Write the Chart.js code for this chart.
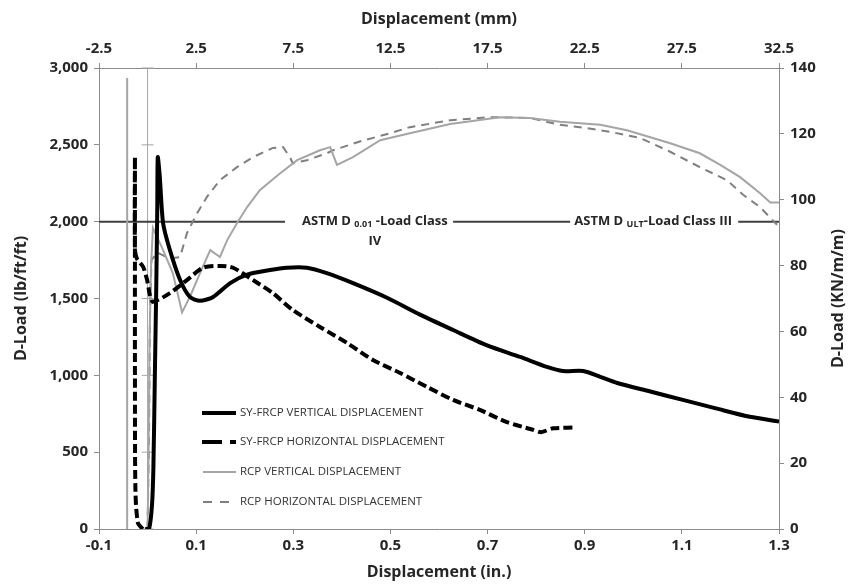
<!DOCTYPE html>
<html lang="en">
<head>
<meta charset="UTF-8">
<title>D-Load vs Displacement</title>
<script src="https://cdn.jsdelivr.net/npm/chart.js"></script>
<style>
  html, body { margin: 0; padding: 0; background: #fff; }
</style>
</head>
<body>
<canvas id="grafico" width="853" height="587"></canvas>
<script>
// ticks
const inTicksStep = 0.2;
const mmTicksStep = 5;
const lbTicks = [0, 500, 1000, 1500, 2000, 2500, 3000];
const knTicksStep = 20;

// SY-FRCP vertical displacement (in., lb/ft/ft)
const sfVertX = [-0.005, 0.003, 0.009, 0.012, 0.015, 0.018, 0.02, 0.021, 0.025, 0.032, 0.046, 0.067, 0.087, 0.108, 0.135, 0.17, 0.205, 0.252, 0.287, 0.328, 0.369, 0.423, 0.493, 0.561, 0.629, 0.699, 0.767, 0.822, 0.855, 0.897, 0.932, 0.967, 1.035, 1.102, 1.17, 1.24, 1.3];
const sfVertY = [0, 0, 150, 400, 1000, 1600, 2100, 2420, 2300, 1990, 1815, 1620, 1510, 1485, 1510, 1600, 1655, 1685, 1700, 1700, 1665, 1600, 1505, 1395, 1295, 1195, 1120, 1055, 1028, 1028, 990, 950, 895, 840, 785, 730, 700];

// SY-FRCP horizontal displacement
const sfHorX = [-0.01, -0.02, -0.025, -0.026, -0.026, -0.026, -0.026, -0.022, -0.009, -0.001, 0.005, 0.011, 0.046, 0.081, 0.114, 0.149, 0.176, 0.217, 0.258, 0.299, 0.355, 0.411, 0.464, 0.52, 0.575, 0.629, 0.684, 0.74, 0.794, 0.81, 0.835, 0.876];
const sfHorY = [0, 40, 250, 1000, 2000, 2420, 1820, 1760, 1705, 1620, 1520, 1478, 1535, 1620, 1700, 1712, 1700, 1620, 1535, 1425, 1315, 1210, 1100, 1015, 925, 840, 775, 695, 645, 630, 655, 660];

// RCP vertical displacement (null = break in line)
const rcpVertX = [-0.042, -0.042, -0.042, 0.0, 0.002, 0.004, 0.007, 0.011, 0.032, 0.052, 0.071, 0.087, 0.108, 0.129, 0.149, 0.164, 0.184, 0.205, 0.231, 0.273, 0.308, 0.355, 0.376, 0.39, 0.423, 0.479, 0.54, 0.623, 0.726, 0.787, 0.849, 0.932, 0.987, 1.076, 1.137, 1.179, 1.22, 1.261, 1.282, 1.3];
const rcpVertY = [0, 2935, null, 0, 500, 1200, 1700, 1960, 1815, 1665, 1410, 1510, 1665, 1815, 1770, 1880, 1990, 2095, 2205, 2315, 2400, 2465, 2485, 2370, 2420, 2530, 2575, 2635, 2680, 2675, 2650, 2630, 2595, 2510, 2445, 2370, 2290, 2185, 2125, 2125];

// RCP horizontal displacement
const rcpHorX = [0.0, 0.003, 0.005, 0.008, 0.02, 0.045, 0.067, 0.081, 0.102, 0.122, 0.149, 0.184, 0.217, 0.258, 0.279, 0.293, 0.299, 0.328, 0.369, 0.382, 0.44, 0.499, 0.54, 0.623, 0.705, 0.787, 0.849, 0.89, 0.952, 1.014, 1.076, 1.137, 1.193, 1.226, 1.261, 1.282, 1.296];
const rcpHorY = [0, 600, 1400, 1750, 1800, 1760, 1770, 1925, 2055, 2160, 2270, 2355, 2420, 2480, 2485, 2420, 2380, 2400, 2445, 2465, 2525, 2575, 2615, 2660, 2680, 2675, 2630, 2615, 2585, 2545, 2455, 2355, 2270, 2175, 2095, 2025, 1980];

const seriesNames = ['SY-FRCP VERTICAL DISPLACEMENT', 'SY-FRCP HORIZONTAL DISPLACEMENT', 'RCP VERTICAL DISPLACEMENT', 'RCP HORIZONTAL DISPLACEMENT'];

// load class line
const classLoad = 2000;
const classLineSegs = [[-0.1, 0.283], [0.629, 0.87], [1.216, 1.3]];
const classLabels = [
  { x: 0.468, parts: ['ASTM D ', '0.01', ' -Load Class'], second: 'IV' },
  { x: 1.041, parts: ['ASTM D ', 'ULT', '-Load Class III'], second: '' }
];

const FONT = "'Open Sans', 'DejaVu Sans', sans-serif";
const TXT = '#262626';
const AXIS = '#8c8c8c';

function pts(xs, ys) {
  return xs.map((v, i) => ({ x: v, y: ys[i] }));
}

const decor = {
  id: 'decor',
  beforeDatasetsDraw(chart) {
    const { ctx, scales } = chart;
    const x = scales.x, y = scales.y, xmm = scales.xmm;
    ctx.save();
    // secondary vertical axis at 0 mm
    const p0 = xmm.getPixelForValue(0);
    ctx.strokeStyle = '#a6a6a6';
    ctx.lineWidth = 1;
    ctx.beginPath();
    ctx.moveTo(p0, y.getPixelForValue(3000));
    ctx.lineTo(p0, y.getPixelForValue(0));
    lbTicks.forEach(v => {
      const py = y.getPixelForValue(v);
      ctx.moveTo(p0 - 6, py);
      ctx.lineTo(p0 + 6, py);
    });
    ctx.stroke();

    // load class line
    const py = y.getPixelForValue(classLoad);
    ctx.strokeStyle = '#404040';
    ctx.lineWidth = 2;
    ctx.beginPath();
    classLineSegs.forEach(s => {
      ctx.moveTo(x.getPixelForValue(s[0]), py);
      ctx.lineTo(x.getPixelForValue(s[1]), py);
    });
    ctx.stroke();

    // class labels
    const big = 'bold 13px ' + FONT, small = 'bold 9px ' + FONT;
    ctx.fillStyle = TXT;
    ctx.textBaseline = 'middle';
    classLabels.forEach(l => {
      const fonts = [big, small, big];
      let w = 0;
      const ws = l.parts.map((t, i) => { ctx.font = fonts[i]; const m = ctx.measureText(t).width; w += m; return m; });
      const cx = x.getPixelForValue(l.x);
      let sx = cx - w / 2;
      ctx.textAlign = 'left';
      l.parts.forEach((t, i) => {
        ctx.font = fonts[i];
        ctx.fillText(t, sx, py + (i === 1 ? 3 : 0));
        sx += ws[i];
      });
      if (l.second) {
        ctx.font = big;
        ctx.textAlign = 'center';
        ctx.fillText(l.second, cx, py + 20);
      }
    });
    ctx.restore();
  },
  afterDraw(chart) {
    const { ctx, chartArea } = chart;
    ctx.save();
    // legend
    const rows = [413, 442, 472, 502];
    const styles = [
      { c: '#000', w: 4, d: [], x0: 202, x1: 236 },
      { c: '#000', w: 4, d: [20, 8], x0: 202, x1: 236 },
      { c: '#a5a5a5', w: 2, d: [], x0: 203, x1: 236 },
      { c: '#7f7f7f', w: 2, d: [9, 8], x0: 203, x1: 229 }
    ];
    ctx.font = '11.5px ' + FONT;
    ctx.textBaseline = 'middle';
    ctx.textAlign = 'left';
    rows.forEach((ry, i) => {
      const s = styles[i];
      ctx.strokeStyle = s.c;
      ctx.lineWidth = s.w;
      ctx.setLineDash(s.d);
      ctx.beginPath();
      ctx.moveTo(s.x0, ry);
      ctx.lineTo(s.x1, ry);
      ctx.stroke();
      ctx.fillStyle = '#333';
      ctx.fillText(seriesNames[i], 240, ry);
    });
    ctx.setLineDash([]);
    // right axis title, reading upward
    ctx.translate(838, (chartArea.top + chartArea.bottom) / 2);
    ctx.rotate(-Math.PI / 2);
    ctx.font = 'bold 16px ' + FONT;
    ctx.fillStyle = TXT;
    ctx.textAlign = 'center';
    ctx.fillText('D-Load (KN/m/m)', 0, 0);
    ctx.restore();
  }
};

const tickFont = { family: FONT, size: 15, weight: 'bold' };
const titleFont = { family: FONT, size: 16, weight: 'bold' };

new Chart(document.getElementById('grafico').getContext('2d'), {
  type: 'line',
  data: {
    datasets: [
      { label: seriesNames[0], data: pts(sfVertX, sfVertY), borderColor: '#000', borderWidth: 4, tension: 0.25, order: 1 },
      { label: seriesNames[1], data: pts(sfHorX, sfHorY), borderColor: '#000', borderWidth: 4, borderDash: [9, 4], tension: 0.25, order: 2 },
      { label: seriesNames[2], data: pts(rcpVertX, rcpVertY), borderColor: '#a5a5a5', borderWidth: 2, tension: 0, order: 3 },
      { label: seriesNames[3], data: pts(rcpHorX, rcpHorY), borderColor: '#7f7f7f', borderWidth: 2, borderDash: [8, 6], tension: 0, order: 4 }
    ]
  },
  options: {
    responsive: false,
    animation: false,
    spanGaps: false,
    elements: { point: { radius: 0 } },
    layout: { padding: 0 },
    plugins: { legend: { display: false }, tooltip: { enabled: false } },
    scales: {
      x: {
        type: 'linear', position: 'bottom', min: -0.1, max: 1.3,
        ticks: { stepSize: inTicksStep, font: tickFont, color: TXT, padding: 3 },
        grid: { drawOnChartArea: false, tickLength: 5, color: AXIS },
        border: { color: AXIS },
        title: { display: true, text: 'Displacement (in.)', font: titleFont, color: TXT, padding: { bottom: 5 } },
        afterFit: s => { s.height = 58; }
      },
      xmm: {
        type: 'linear', position: 'top', min: -2.5, max: 32.5,
        ticks: { stepSize: mmTicksStep, font: tickFont, color: TXT, padding: 5 },
        grid: { drawOnChartArea: false, tickLength: 5, color: AXIS },
        border: { color: AXIS },
        title: { display: true, text: 'Displacement (mm)', font: titleFont, color: TXT, padding: { top: 10 } },
        afterFit: s => { s.height = 68; }
      },
      y: {
        type: 'linear', position: 'left', min: 0, max: 3000,
        ticks: { stepSize: 500, font: tickFont, color: TXT, padding: 6, callback: v => v.toLocaleString('en-US') },
        grid: { drawOnChartArea: false, tickLength: 5, color: AXIS },
        border: { color: AXIS },
        title: { display: true, text: 'D-Load (lb/ft/ft)', font: titleFont, color: TXT, padding: { top: 12 } },
        afterFit: s => { s.width = 99; }
      },
      ykn: {
        type: 'linear', position: 'right', min: 0, max: 140,
        ticks: { stepSize: knTicksStep, font: tickFont, color: TXT, padding: 6 },
        grid: { drawOnChartArea: false, tickLength: 5, color: AXIS },
        border: { color: AXIS },
        afterFit: s => { s.width = 74; }
      }
    }
  },
  plugins: [decor]
});
</script>
</body>
</html>
